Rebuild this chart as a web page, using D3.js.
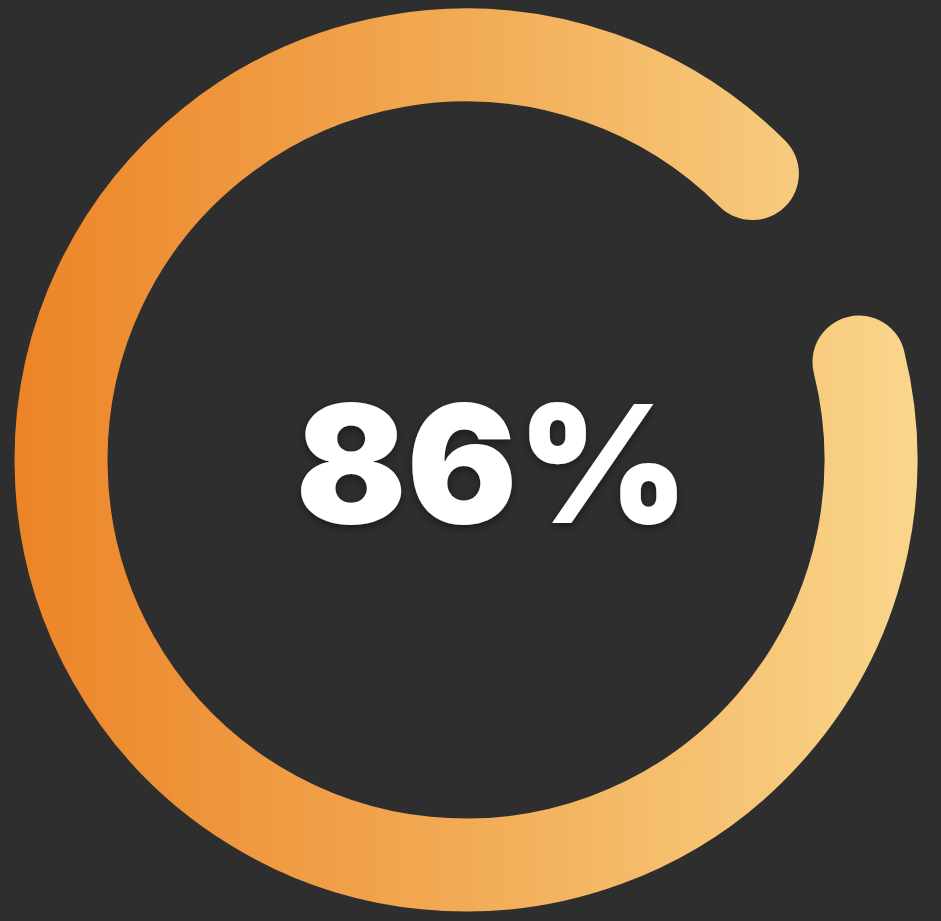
<!DOCTYPE html>
<html>
<head>
<meta charset="utf-8">
<script src="https://cdn.jsdelivr.net/npm/d3@7"></script>
<style>
  html, body { margin: 0; padding: 0; background: #2e2e2e; }
  svg { display: block; }
</style>
</head>
<body>
<svg id="chart" width="941" height="921"></svg>
<script>
// ---- data ----
const labels = ["86%"];
const values = [86];
const gradientStops = [0, 0.5, 1];
const gradientColors = ["#ec8427", "#f2ab55", "#f9d68c"];

// ---- layout ----
const W = 941, H = 921;
const cx = 466, cy = 460;
const R = 405, thick = 93;
const startDeg = 76, spanDeg = 329;

const svg = d3.select("#chart");
svg.append("rect").attr("width", W).attr("height", H).attr("fill", "#2e2e2e");

const defs = svg.append("defs");
const grad = defs.append("linearGradient")
  .attr("id", "ringGrad")
  .attr("gradientUnits", "userSpaceOnUse")
  .attr("x1", -R - thick / 2).attr("y1", 0)
  .attr("x2", R + thick / 2).attr("y2", 0);
grad.selectAll("stop").data(gradientStops).join("stop")
  .attr("offset", d => d)
  .attr("stop-color", (d, i) => gradientColors[i]);

const shadow = defs.append("filter").attr("id", "txtShadow")
  .attr("x", "-10%").attr("y", "-10%").attr("width", "120%").attr("height", "130%");
shadow.append("feDropShadow").attr("dx", 0).attr("dy", 3).attr("stdDeviation", 4)
  .attr("flood-color", "#000").attr("flood-opacity", 0.45);

// angle scale: value -> degrees of the drawn arc
const angle = d3.scaleLinear().domain([0, values[0]]).range([startDeg, startDeg + spanDeg]);
const toRad = d => d * Math.PI / 180;

const g = svg.append("g").attr("transform", `translate(${cx},${cy})`);

const arcPath = d3.path();
const a0 = toRad(angle(0)) - Math.PI / 2;
const a1 = toRad(angle(values[0])) - Math.PI / 2;
arcPath.arc(0, 0, R, a0, a1, false);

g.append("path")
  .datum(values[0])
  .attr("d", arcPath.toString())
  .attr("fill", "none")
  .attr("stroke", "url(#ringGrad)")
  .attr("stroke-width", thick)
  .attr("stroke-linecap", "round");

svg.append("text")
  .data(labels)
  .attr("x", 492)
  .attr("y", 523)
  .attr("text-anchor", "middle")
  .attr("font-family", "Inter, 'Liberation Sans', sans-serif")
  .attr("font-weight", 900)
  .attr("font-size", 164)
  .attr("fill", "#ffffff")
  .attr("filter", "url(#txtShadow)")
  .text(d => d);
</script>
</body>
</html>
